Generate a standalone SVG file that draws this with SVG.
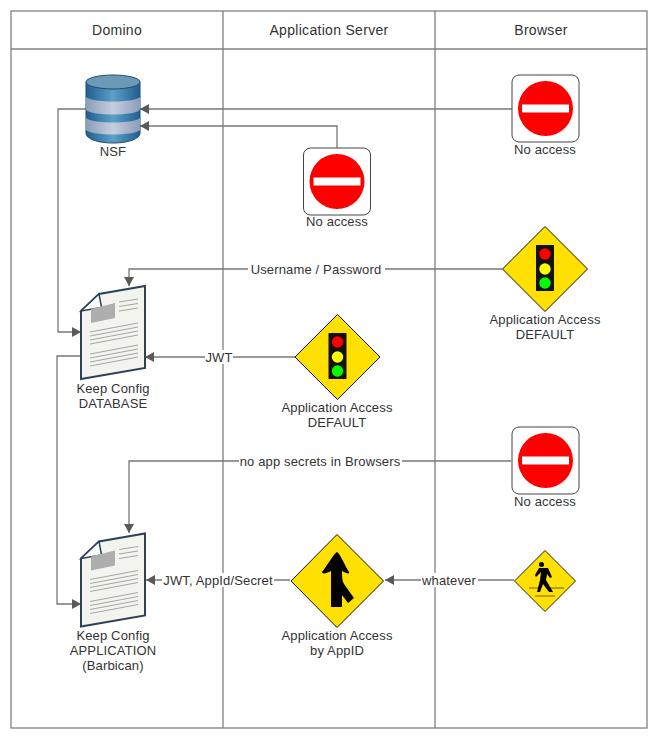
<svg xmlns="http://www.w3.org/2000/svg" width="658" height="743" viewBox="0 0 658 743">
<style>
text{font-family:"Liberation Sans",Arial,sans-serif;font-size:13px;letter-spacing:.15px;fill:#333;text-anchor:middle}
.h{font-size:14px;letter-spacing:.3px}
.lane{fill:#fff;stroke:#808080;stroke-width:1.3}
.e{fill:none;stroke:#777;stroke-width:1.3}
.bg{fill:#fff}
</style>
<defs>
<marker id="a" markerUnits="userSpaceOnUse" markerWidth="10" markerHeight="10" refX="9" refY="5" orient="auto"><path d="M0 0L9 5L0 10Z" fill="#595959"/></marker>
<linearGradient id="cy" x1="0" x2="1" y1="0" y2="0"><stop offset="0" stop-color="#1f5f90"/><stop offset=".5" stop-color="#5ba0c8"/><stop offset="1" stop-color="#1f5f90"/></linearGradient>
<linearGradient id="cb" x1="0" x2="1" y1="0" y2="0"><stop offset="0" stop-color="#8c9cb8"/><stop offset=".5" stop-color="#c4cfe0"/><stop offset="1" stop-color="#8c9cb8"/></linearGradient>
<g id="noaccess"><rect x="-33.500" y="-33.500" width="67" height="67" rx="7" fill="#fff" stroke="#444" stroke-width="1"/><circle r="27.500" fill="#f00"/><rect x="-23.500" y="-4" width="47" height="8" fill="#fff"/></g>
<g id="traffic"><path d="M0-42.500L42.500 0L0 42.500L-42.500 0Z" fill="#ffe000" stroke="#111" stroke-width="1"/><rect x="-9" y="-24" width="18" height="46" fill="#111"/><circle cy="-15" r="5.700" fill="#f00"/><circle cy="0" r="5.700" fill="#ff0"/><circle cy="14" r="5.700" fill="#0f0"/></g>
<g id="doc"><path d="M64 0V82L0 93V25L18 8Z" fill="#f4f4ee" stroke="#2c4258" stroke-width="2"/><path d="M0 25L20.500 21.500L18 8Z" fill="#fff" stroke="#2c4258" stroke-width="1.500"/><path d="M10 23L34 17V32L10 37Z" fill="#aeaeae"/><path d="M38 16L57 13M38 20.500L57 17.500M38 25L57 22M9 46L57 37M9 50L57 41M9 54L57 45M9 58L57 49M9 68L57 59M9 72L57 63M9 76L57 67M9 80L57 71" fill="none" stroke="#a5a5a5" stroke-width="1"/></g>
</defs>
<g id="lanes">
<rect class="lane" x="11" y="11" width="636" height="717"/>
<path class="lane" d="M11 49H647M223 11V728M435 11V728"/>
<text class="h" x="117" y="35">Domino</text>
<text class="h" x="329" y="35">Application Server</text>
<text class="h" x="541" y="35">Browser</text>
</g>
<g id="connectors">
<path class="e" marker-end="url(#a)" d="M512 109H140"/>
<path class="e" marker-end="url(#a)" d="M337 148V126H140"/>
<path class="e" marker-end="url(#a)" d="M86 109H58V332H81"/>
<path class="e" marker-end="url(#a)" d="M502 269H129V286"/>
<path class="e" marker-end="url(#a)" d="M295 357H145"/>
<path class="e" marker-end="url(#a)" d="M81 356H57V604H81"/>
<path class="e" marker-end="url(#a)" d="M511 461H129V533"/>
<path class="e" marker-end="url(#a)" d="M290 580H146"/>
<path class="e" marker-end="url(#a)" d="M514 580H385"/>
<rect class="bg" x="248" y="262" width="137" height="14"/><text x="316" y="273.500">Username / Password</text>
<rect class="bg" x="205" y="350" width="28" height="14"/><text x="219" y="361.500">JWT</text>
<rect class="bg" x="239" y="454" width="163" height="14"/><text x="320" y="465.500">no app secrets in Browsers</text>
<rect class="bg" x="162" y="573" width="112" height="14"/><text x="218" y="584.500">JWT, AppId/Secret</text>
<rect class="bg" x="421" y="573" width="57" height="14"/><text x="449" y="584.500">whatever</text>
</g>
<g id="nsf">
<path d="M86 82V133C86 139 98 143 113 143S140 139 140 133V82Z" fill="url(#cy)" stroke="#244a68" stroke-width="1"/>
<path d="M86 97C92 103 134 103 140 97V110C134 116 92 116 86 110Z" fill="url(#cb)"/>
<path d="M86 118C92 124 134 124 140 118V130C134 136 92 136 86 130Z" fill="url(#cb)"/>
<ellipse cx="113" cy="82" rx="27" ry="7" fill="#6a9ab8" stroke="#244a68" stroke-width="1"/>
<text x="113" y="156">NSF</text>
</g>
<g id="browser-noaccess-1"><use href="#noaccess" x="545.500" y="108.500"/><text x="545" y="154">No access</text></g>
<g id="server-noaccess"><use href="#noaccess" x="337" y="181.500"/><text x="337" y="226">No access</text></g>
<g id="browser-default"><use href="#traffic" x="545" y="269"/><text x="545" y="323.500">Application Access</text><text x="545" y="338.500">DEFAULT</text></g>
<g id="keep-database"><use href="#doc" x="81" y="286"/><text x="113" y="392.500">Keep Config</text><text x="113" y="407.500">DATABASE</text></g>
<g id="server-default"><use href="#traffic" x="337.500" y="357"/><text x="337" y="411.500">Application Access</text><text x="337" y="426.500">DEFAULT</text></g>
<g id="browser-noaccess-2"><use href="#noaccess" x="545.500" y="460.500"/><text x="545" y="506">No access</text></g>
<g id="keep-application"><use href="#doc" x="81" y="533.500"/><text x="113" y="639.500">Keep Config</text><text x="113" y="654.500">APPLICATION</text><text x="113" y="669.500">(Barbican)</text></g>
<g id="server-appid">
<path d="M337 534.500L383.500 581L337 627.500L291 581Z" fill="#ffe000" stroke="#111" stroke-width="1"/>
<path d="M337 552C334 553 327 566 322 572C322 574 326 574 331 571V607H342V595L348 603L354 598L344 584C342 581 342 576 342 571C347 574 350 574 349 572C345 566 340 553 337 552Z" fill="#000"/>
<text x="337" y="639.500">Application Access</text><text x="337" y="654.500">by AppID</text>
</g>
<g id="browser-ped">
<path d="M545 550.500L575.500 581L545 611.500L514.500 581Z" fill="#ffe000" stroke="#222" stroke-width="1"/>
<path d="M529 588H539M550 588H564M535 596H555" stroke="#6b6320" stroke-width="1" fill="none"/>
<circle cx="541.500" cy="564.500" r="2.500" fill="#000"/>
<path d="M539 568L548 568L552 577L550 578L547 574L546 580L553 592H549L543 584L540 592H537L540 580L541 572L536 577L535 575Z" fill="#000"/>
</g>
</svg>
